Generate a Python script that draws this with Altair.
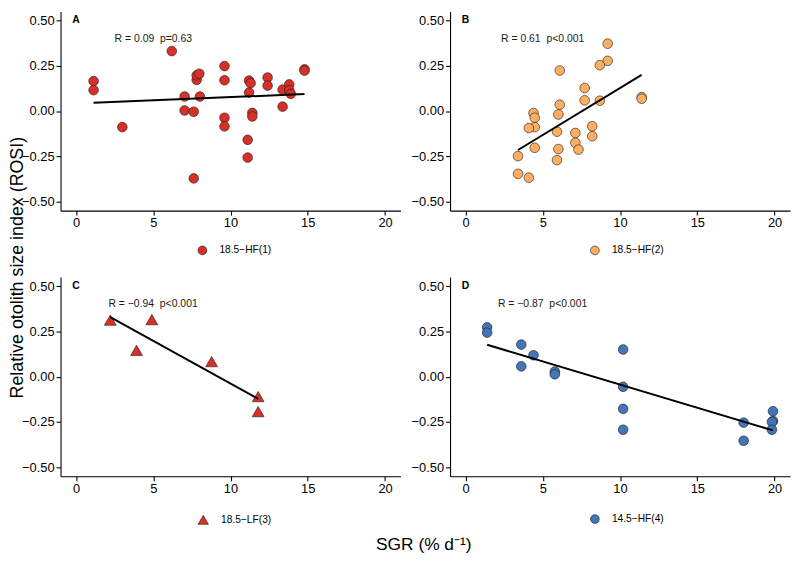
import altair as alt
import pandas as pd

FONT = "Liberation Sans"

# ---- data ----
A_x = [1.14, 1.14, 3.0, 6.2, 7.03, 7.03, 7.62, 7.62, 7.81, 7.81, 7.98, 8.02, 9.61, 9.61, 9.61, 9.61,
       11.11, 11.11, 11.2, 11.3, 11.2, 11.41, 11.41, 12.4, 12.4, 13.37, 13.37, 13.8, 13.8, 13.9, 14.79, 14.79]
A_y = [0.165, 0.115, -0.089, 0.331, 0.08, 0.003, -0.004, -0.372, 0.172, 0.197, 0.206, 0.08, 0.248, 0.170,
       -0.037, -0.085, -0.159, -0.257, 0.168, 0.154, 0.102, -0.01, -0.03, 0.185, 0.14, 0.118, 0.024, 0.147,
       0.115, 0.095, 0.23, 0.223]

B_x = [9.2, 9.2, 8.69, 6.1, 7.71, 7.71, 8.69, 11.4, 11.4, 6.1, 6.01, 4.4, 4.48, 4.48, 4.1, 5.92, 8.2, 8.2,
       7.11, 7.11, 7.31, 4.48, 6.01, 5.92, 3.4, 3.4, 4.1]
B_y = [0.372, 0.277, 0.253, 0.224, 0.127, 0.059, 0.057, 0.077, 0.068, 0.035, -0.019, -0.011, -0.037, -0.089,
       -0.094, -0.114, -0.084, -0.139, -0.121, -0.175, -0.213, -0.203, -0.21, -0.271, -0.249, -0.347, -0.368]

C_x = [2.22, 4.91, 3.92, 8.78, 11.79, 11.79]
C_y = [0.312, 0.315, 0.145, 0.083, -0.110, -0.193]

D_x = [1.4, 1.4, 3.61, 3.61, 4.4, 5.78, 5.78, 10.2, 10.2, 10.2, 10.2, 18.0, 18.0, 19.9, 19.9, 19.83, 19.83]
D_y = [0.272, 0.243, 0.177, 0.057, 0.118, 0.028, 0.013, 0.150, -0.056, -0.178, -0.293, -0.254, -0.354,
       -0.191, -0.245, -0.25, -0.293]

groups = ["18.5\u2212HF(1)", "18.5\u2212HF(2)", "18.5\u2212LF(3)", "14.5\u2212HF(4)"]
colors = ["#d73027", "#fdae61", "#d73027", "#4575b4"]
shapes = ["circle", "circle", "triangle-up", "circle"]
letters = ["A", "B", "C", "D"]
annots = ["R = 0.09\u00a0 p=0.63", "R = 0.61\u00a0 p<0.001", "R = \u22120.94\u00a0 p<0.001", "R = \u22120.87\u00a0 p<0.001"]
annot_x = [2.5, 2.3, 2.1, 2.1]
annot_y = 0.40
x_ticks = [0, 5, 10, 15, 20]
y_ticks = [-0.5, -0.25, 0.0, 0.25, 0.5]

Y_TITLE = "Relative otolith size index (ROSI)"
X_TITLE = "SGR (% d\u207b\u00b9)"

W, H = 343, 201
series = [(A_x, A_y), (B_x, B_y), (C_x, C_y), (D_x, D_y)]
legend_x = [138, 141, 138, 141]
legend_y = [236, 236, 239, 239]


def panel(i):
    xs, ys = series[i]
    df = pd.DataFrame({"x": xs, "y": ys, "grp": groups[i]})
    xaxis_kw = dict(values=x_ticks, format="d")
    yaxis_kw = dict(values=y_ticks, format=".2f")
    xtitle = None
    ytitle = None
    if i == 0:
        ytitle = Y_TITLE
        yaxis_kw.update(titleX=-34, titleY=258, titleFontSize=18)
    if i == 2:
        xtitle = X_TITLE
        xaxis_kw.update(titleX=366, titleY=60, titleFontSize=17.5)
    X = alt.X("x:Q", scale=alt.Scale(domain=[-1, 21], nice=False, zero=False),
              axis=alt.Axis(**xaxis_kw), title=xtitle)
    Y = alt.Y("y:Q", scale=alt.Scale(domain=[-0.55, 0.55], nice=False, zero=False),
              axis=alt.Axis(**yaxis_kw), title=ytitle)

    size = 144 if shapes[i] == "triangle-up" else 95
    lsize = 110 if shapes[i] == "triangle-up" else 78
    pts = alt.Chart(df).mark_point(
        filled=True, shape=shapes[i], size=size, opacity=1,
        stroke="#1a1a1a", strokeWidth=0.6
    ).encode(
        x=X, y=Y,
        color=alt.Color("grp:N",
                        scale=alt.Scale(domain=[groups[i]], range=[colors[i]]),
                        legend=alt.Legend(orient="none", legendX=legend_x[i], legendY=legend_y[i],
                                          title=None, padding=0, symbolType=shapes[i],
                                          symbolSize=lsize, symbolStrokeColor="#1a1a1a",
                                          symbolStrokeWidth=0.6, symbolOpacity=1,
                                          labelFont=FONT, labelFontSize=10.3,
                                          labelColor="#000000", labelOffset=12)),
    )
    line = alt.Chart(df).transform_regression("x", "y").mark_line(
        color="black", strokeWidth=2
    ).encode(x=X, y=Y)

    tdf = pd.DataFrame({"x": [annot_x[i]], "y": [annot_y], "t": [annots[i]]})
    txt = alt.Chart(tdf).mark_text(
        align="left", baseline="middle", font=FONT, fontSize=10.5, color="#1a1a1a"
    ).encode(x=X, y=Y, text="t:N")

    ldf = pd.DataFrame({"x": [0], "y": [0.5], "t": [letters[i]]})
    let = alt.Chart(ldf).mark_text(
        align="center", baseline="middle", font=FONT, fontSize=10.5, fontWeight="bold", color="#000000"
    ).encode(x=X, y=Y, text="t:N")

    return alt.layer(pts, line, txt, let).properties(width=W, height=H)


chart = alt.concat(
    panel(0), panel(1), panel(2), panel(3),
    columns=2, spacing={"row": 67, "column": 50}, bounds="flush"
).resolve_scale(color="independent").resolve_legend(color="independent").properties(
    padding={"left": 0, "top": 0, "right": 0, "bottom": 0},
    background="white",
).configure_view(stroke="transparent").configure_axis(
    grid=False, domainColor="#000000", domainWidth=1.1, tickColor="#000000", tickWidth=1.1,
    tickSize=4.5, labelFont=FONT, labelFontSize=13, labelColor="#000000", labelPadding=2,
    titleFont=FONT, titleFontSize=17, titleFontWeight="normal", titleColor="#000000"
)

chart.save("out.html", embed_options={"renderer": "svg", "actions": False})
